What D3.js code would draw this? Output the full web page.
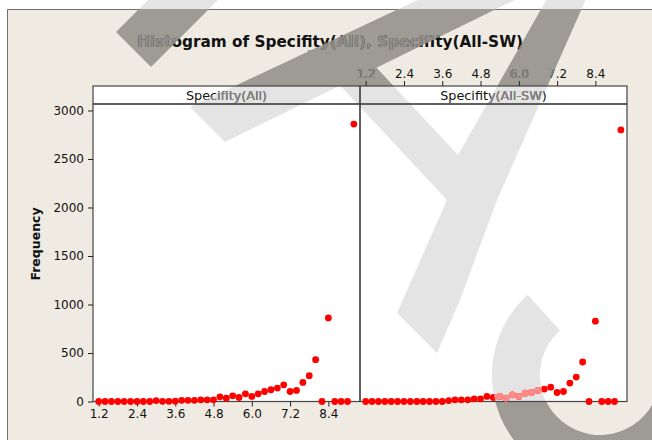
<!DOCTYPE html>
<html>
<head>
<meta charset="utf-8">
<script src="https://cdn.jsdelivr.net/npm/d3@7"></script>
<style>
  body { margin: 0; background: #fff; }
  svg { display: block; }
  .axis text { font-family: "DejaVu Sans", sans-serif; font-size: 12px; fill: #111; }
  .axis line { stroke: #222; }
</style>
</head>
<body>
<div id="chart"></div>
<script>
// bin midpoints (shared by both panels)
const binMids = [1.2, 1.4, 1.6, 1.8, 2.0, 2.2, 2.4, 2.6, 2.8, 3.0,
                 3.2, 3.4, 3.6, 3.8, 4.0, 4.2, 4.4, 4.6, 4.8, 5.0,
                 5.2, 5.4, 5.6, 5.8, 6.0, 6.2, 6.4, 6.6, 6.8, 7.0,
                 7.2, 7.4, 7.6, 7.8, 8.0, 8.2, 8.4, 8.6, 8.8, 9.0, 9.2];
// frequencies
const countsAll   = [0, 0, 0, 0, 0, 0, 0, 0, 0, 10,
                     2, 2, 3, 12, 12, 12, 17, 17, 17, 48,
                     34, 59, 41, 79, 52, 79, 103, 121, 138, 172,
                     103, 114, 197, 266, 431, 0, 862, 0, 0, 0, 2860];
const countsAllSW = [0, 0, 0, 0, 0, 0, 0, 0, 0, 0,
                     0, 0, 0, 10, 17, 17, 17, 28, 28, 52,
                     41, 52, 34, 69, 52, 86, 93, 114, 128, 148,
                     93, 103, 190, 252, 407, 0, 828, 0, 0, 0, 2800];
const panelNames = ["Specifity(All)", "Specifity(All-SW)"];
const xTicks = [1.2, 2.4, 3.6, 4.8, 6.0, 7.2, 8.4];
const yTicks = [0, 500, 1000, 1500, 2000, 2500, 3000];

const width = 652, height = 440;
const stripTop = 86, plotTop = 104, plotBottom = 401.5;
const panels = [
  { x0: 93,  x1: 360, name: panelNames[0], counts: countsAll },
  { x0: 360, x1: 627, name: panelNames[1], counts: countsAllSW }
];
const beige = "#efebe2";

// watermark shapes (background artefact of the picture)
const markPolys = [
  [[116, 32], [151, 67], [228, -10], [158, -10]],
  [[190, 107], [225, 142], [535, -10], [439, -10]],
  [[307, 50], [360, 50], [458, 155], [552, -10], [590, -10], [497, 200],
   [460, 300], [437, 353], [397, 313], [447, 200]]
];
const markArc = d3.arc()({ innerRadius: 60, outerRadius: 108,
                           startAngle: Math.PI / 2, endAngle: 318 * Math.PI / 180 });

const svg = d3.select("#chart").append("svg")
  .attr("width", width).attr("height", height);
const defs = svg.append("defs");

const drawMark = (g, fill) => {
  g.selectAll("polygon.mk").data(markPolys).join("polygon")
    .attr("class", "mk")
    .attr("points", d => d.map(p => p.join(",")).join(" "))
    .attr("fill", fill);
  g.append("path").attr("d", markArc)
    .attr("transform", "translate(600,375)")
    .attr("fill", fill);
};

// clip paths
defs.append("clipPath").attr("id", "frameClip")
  .append("rect").attr("x", 7).attr("y", 9).attr("width", width).attr("height", height);
const panelClip = defs.append("clipPath").attr("id", "panelClip");
panels.forEach(p => {
  panelClip.append("rect").attr("x", p.x0).attr("y", stripTop)
    .attr("width", p.x1 - p.x0).attr("height", plotBottom - stripTop);
});
drawMark(defs.append("clipPath").attr("id", "markClip"), "#000");

// background: white page, beige frame
drawMark(svg.append("g"), "#e4e4e4");
svg.append("rect").attr("x", 7).attr("y", 9)
  .attr("width", width - 7).attr("height", height - 9).attr("fill", beige);
svg.append("path").attr("d", `M7.5,${height}V9.5H${width}`)
  .attr("fill", "none").attr("stroke", "#6e6e6e");
drawMark(svg.append("g").attr("clip-path", "url(#frameClip)"), "#9e9b94");

// panel backgrounds
panels.forEach(p => {
  svg.append("rect").attr("x", p.x0).attr("y", stripTop)
    .attr("width", p.x1 - p.x0).attr("height", plotBottom - stripTop).attr("fill", "#fff");
});
drawMark(svg.append("g").attr("clip-path", "url(#panelClip)"), "#e4e4e4");

// all foreground content
const content = svg.append("g");

const yScale = d3.scaleLinear().domain([0, 3067]).range([plotBottom, plotTop]);

panels.forEach((p, i) => {
  const xScale = d3.scaleLinear()
    .domain([1.2 - 5.7 / 31.9, 1.2 + (p.x1 - p.x0 - 5.7) / 31.9])
    .range([p.x0, p.x1]);

  // strip and plot borders
  content.append("rect").attr("x", p.x0).attr("y", stripTop)
    .attr("width", p.x1 - p.x0).attr("height", plotTop - stripTop)
    .attr("fill", "none").attr("stroke", "#444").attr("stroke-width", 1.2);
  content.append("rect").attr("x", p.x0).attr("y", plotTop)
    .attr("width", p.x1 - p.x0).attr("height", plotBottom - plotTop)
    .attr("fill", "none").attr("stroke", "#444").attr("stroke-width", 1.2);

  content.append("text")
    .attr("class", "strip")
    .attr("x", (p.x0 + p.x1) / 2).attr("y", 99.5)
    .attr("text-anchor", "middle")
    .attr("font-family", "\"DejaVu Sans\", sans-serif")
    .attr("font-size", 12.8)
    .attr("fill", "#111")
    .text(p.name);

  // x axis: bottom on the first panel, top on the second
  const xAxis = (i === 0 ? d3.axisBottom(xScale) : d3.axisTop(xScale))
    .tickValues(xTicks).tickFormat(d3.format(".1f")).tickSize(5).tickPadding(3);
  const xg = content.append("g").attr("class", "axis")
    .attr("transform", `translate(0,${i === 0 ? plotBottom : stripTop})`)
    .call(xAxis);
  xg.select(".domain").remove();

  if (i === 0) {
    const yg = content.append("g").attr("class", "axis")
      .attr("transform", `translate(${p.x0},0)`)
      .call(d3.axisLeft(yScale).tickValues(yTicks).tickFormat(d3.format("d"))
        .tickSize(5).tickPadding(4));
    yg.select(".domain").remove();
  }

  content.append("g")
    .selectAll("circle")
    .data(binMids.map((m, k) => ({ m, c: p.counts[k] })))
    .join("circle")
      .attr("cx", d => xScale(d.m))
      .attr("cy", d => yScale(d.c))
      .attr("r", 3.4)
      .attr("fill", "#ff0000");
});

// title
content.append("text")
  .attr("x", 330).attr("y", 47)
  .attr("text-anchor", "middle")
  .attr("font-family", "\"DejaVu Sans\", sans-serif")
  .attr("font-weight", "bold")
  .attr("font-size", 15)
  .attr("textLength", 386).attr("lengthAdjust", "spacingAndGlyphs")
  .attr("fill", "#111")
  .text("Histogram of Specifity(All), Specifity(All-SW)");

// y label
content.append("text")
  .attr("transform", "translate(39.5,244) rotate(-90)")
  .attr("text-anchor", "middle")
  .attr("font-family", "\"DejaVu Sans\", sans-serif")
  .attr("font-weight", "bold")
  .attr("font-size", 12.5)
  .attr("fill", "#111")
  .text("Frequency");

// faded copy of text and dots where the watermark lies over them
const faded = content.node().cloneNode(true);
svg.append("g").attr("clip-path", "url(#markClip)").node().appendChild(faded);
const fadedSel = d3.select(faded);
fadedSel.selectAll("rect, line, path").remove();
fadedSel.selectAll("text").attr("fill", "#8f8d89").style("fill", "#8f8d89");
fadedSel.selectAll("circle").attr("fill", "#ff8a8a");
</script>
</body>
</html>
